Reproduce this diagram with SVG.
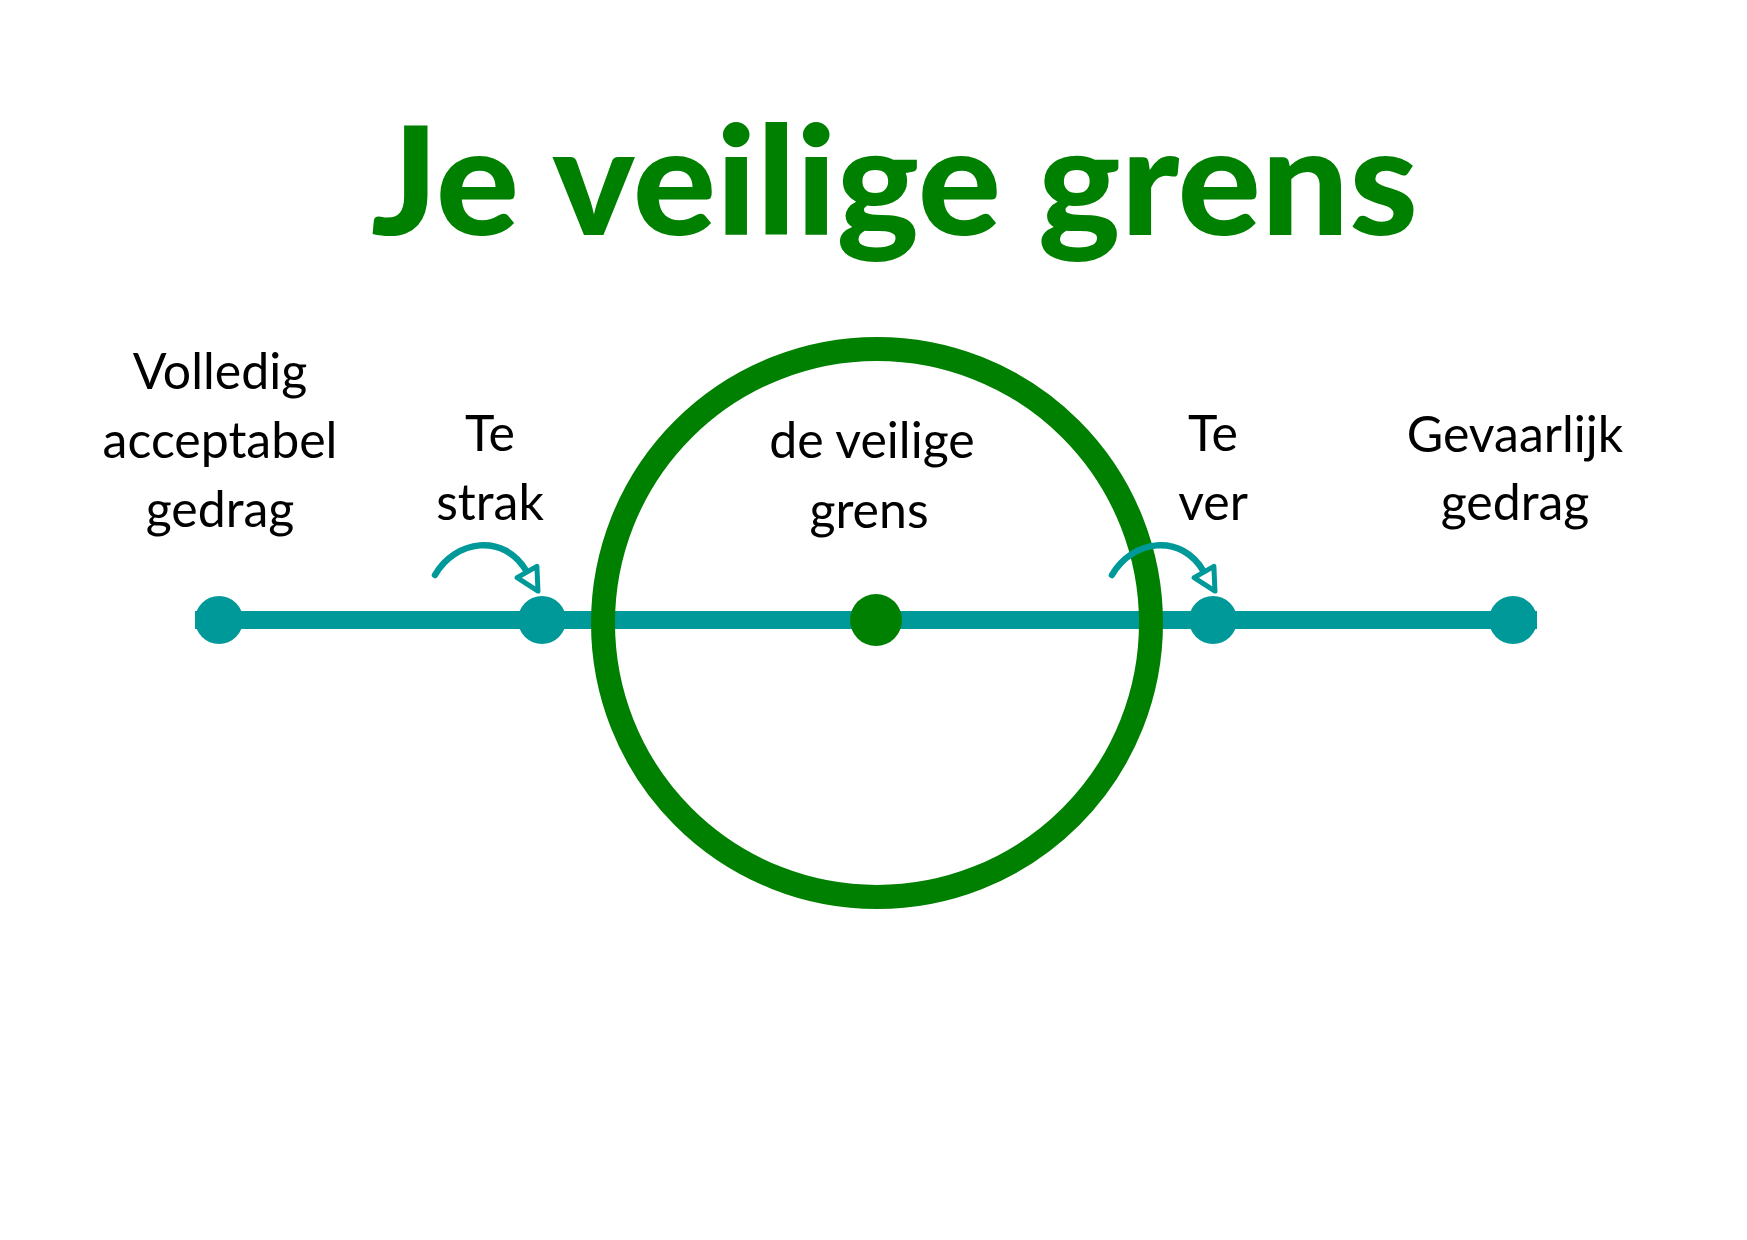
<svg xmlns="http://www.w3.org/2000/svg" width="1747" height="1240" viewBox="0 0 1747 1240">
  <style>
    .title { font-family: Lato, "Open Sans", sans-serif; font-weight: 900; font-size: 151px; fill: #008000; }
    .lbl { font-family: Lato, "Noto Sans", sans-serif; font-weight: 400; font-size: 50px; fill: #000000; text-anchor: middle; }
    .axis { stroke: #009999; stroke-width: 18; fill: none; }
    .dot { fill: #009999; }
    .ring { fill: none; stroke: #008000; stroke-width: 24; }
    .curve { fill: none; stroke: #009999; stroke-width: 6.5; stroke-linecap: round; }
  </style>
  <defs>
    <marker id="openTri" markerUnits="userSpaceOnUse" markerWidth="40" markerHeight="40" refX="0" refY="0" orient="auto" overflow="visible">
      <path d="M0,-11.4 L22,0 L0,11.4 Z" fill="#ffffff" stroke="#009999" stroke-width="5" stroke-linejoin="round"/>
    </marker>
  </defs>
  <rect x="0" y="0" width="1747" height="1240" fill="#ffffff"/>

  <g id="title">
    <text class="title" x="894.5" y="235" text-anchor="middle" textLength="1047" lengthAdjust="spacingAndGlyphs">Je veilige grens</text>
  </g>

  <g id="connectors">
    <line class="axis" x1="195" y1="620" x2="1537" y2="620"/>
  </g>

  <g id="safe-boundary">
    <circle class="ring" cx="877" cy="623" r="274"/>
    <circle cx="876" cy="620" r="26" fill="#008000"/>
    <text class="lbl" x="872" y="458">de veilige</text>
    <text class="lbl" x="869" y="528">grens</text>
  </g>

  <g id="fully-acceptable">
    <circle class="dot" cx="219" cy="620" r="24"/>
    <text class="lbl" x="220" y="389">Volledig</text>
    <text class="lbl" x="220" y="458">acceptabel</text>
    <text class="lbl" x="220" y="527">gedrag</text>
  </g>

  <g id="too-tight">
    <circle class="dot" cx="542" cy="620" r="24"/>
    <text class="lbl" x="490" y="451">Te</text>
    <text class="lbl" x="490" y="520">strak</text>
  </g>

  <g id="too-far">
    <circle class="dot" cx="1213" cy="620" r="24"/>
    <text class="lbl" x="1213" y="451">Te</text>
    <text class="lbl" x="1213" y="520">ver</text>
  </g>

  <g id="dangerous">
    <circle class="dot" cx="1513" cy="620" r="24"/>
    <text class="lbl" x="1515" y="452">Gevaarlijk</text>
    <text class="lbl" x="1515" y="520">gedrag</text>
  </g>

  <g id="arrows">
    <path class="curve" d="M435,575 C455,540 504,532 527,572" marker-end="url(#openTri)"/>
    <path class="curve" d="M1112,575 C1132,540 1181,532 1204,572" marker-end="url(#openTri)"/>
  </g>
</svg>
